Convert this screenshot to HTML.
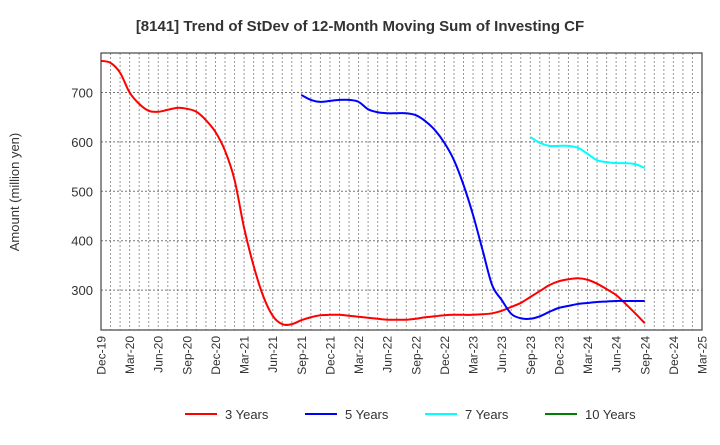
<!DOCTYPE html>
<html><head><meta charset="utf-8"><style>
body{margin:0;background:#fff;font-family:"Liberation Sans",sans-serif}
</style></head><body>
<svg id="chart" width="720" height="440" xmlns="http://www.w3.org/2000/svg" font-family="Liberation Sans, sans-serif">
<text x="360" y="31" text-anchor="middle" font-size="15" font-weight="bold" fill="#333">[8141]  Trend of StDev of 12-Month Moving Sum of Investing CF</text>
<text transform="translate(19,192) rotate(-90)" text-anchor="middle" font-size="13" fill="#333">Amount (million yen)</text>
<g id="grid"></g><g id="series"></g><g id="axes"></g><g id="legend"></g>
</svg>
<script>
const xLabels=["Dec-19","Mar-20","Jun-20","Sep-20","Dec-20","Mar-21","Jun-21","Sep-21","Dec-21","Mar-22","Jun-22","Sep-22","Dec-22","Mar-23","Jun-23","Sep-23","Dec-23","Mar-24","Jun-24","Sep-24","Dec-24","Mar-25"];
const yTicks=[300,400,500,600,700];
const seriesNames=["3 Years","5 Years","7 Years","10 Years"];
const seriesColors=["#ff0000","#0000ff","#00ffff","#008000"];
const start3=0, start5=21, start7=45;
const s3=[764,760,740,700,677,663,661,665,669,667,661,644,620,582,523,426,349,288,248,231,231,239,245,249,250,250,248,246,244,242,240,240,240,242,245,247,249,250,250,250,251,253,258,266,274,286,298,310,318,322,324,321,313,302,290,272,253,233];
const s5=[695,685,681,683,685,685,681,666,660,658,658,658,654,642,624,598,563,513,452,381,310,280,252,243,242,247,256,264,268,272,274,276,277,278,278,278,278];
const s7=[610,598,592,592,592,588,576,563,559,557,557,555,547];
const s10=[];
const L=101,R=702,T=53,B=330,months=63;
const X=i=>L+(R-L)*i/months;
const Y=v=>92.5+(700-v)*0.494;
const ns="http://www.w3.org/2000/svg";
function mk(t,a,p){const e=document.createElementNS(ns,t);for(const k in a)e.setAttribute(k,a[k]);p.appendChild(e);return e;}
function smooth(pts){let d='M'+pts[0][0]+','+pts[0][1];
for(let i=0;i<pts.length-1;i++){const p0=pts[i-1]||pts[i],p1=pts[i],p2=pts[i+1],p3=pts[i+2]||p2;
const c1=[p1[0]+(p2[0]-p0[0])/6,p1[1]+(p2[1]-p0[1])/6],c2=[p2[0]-(p3[0]-p1[0])/6,p2[1]-(p3[1]-p1[1])/6];
d+=' C'+c1+' '+c2+' '+p2;}return d;}
const grid=document.getElementById('grid'),axes=document.getElementById('axes'),ser=document.getElementById('series'),leg=document.getElementById('legend');
for(let i=1;i<months;i++){const l=mk('line',{x1:X(i),x2:X(i),y1:T,y2:B,stroke:'#999','stroke-dasharray':'2,2','stroke-width':1},grid);

}
yTicks.forEach(v=>{const l=mk('line',{x1:L,x2:R,y1:Y(v),y2:Y(v),stroke:'#777','stroke-dasharray':'2,2','stroke-width':1},grid);


const t=mk('text',{x:L-8,y:Y(v)+5,'text-anchor':'end','font-size':13,fill:'#333'},axes);t.textContent=v;

});
const f=mk('rect',{x:L,y:T,width:R-L,height:B-T,fill:'none',stroke:'#444','stroke-width':1.2},axes);


xLabels.forEach((s,i)=>{const x=X(i*3);const t=mk('text',{transform:`translate(${x+4.5},${B+6}) rotate(-90)`,'text-anchor':'end','font-size':12,fill:'#333'},axes);t.textContent=s;

});
[[s3,start3],[s5,start5],[s7,start7],[s10,0]].forEach(([d,st],k)=>{if(!d.length)return;
const p=mk('path',{d:smooth(d.map((v,i)=>[X(st+i),Y(v)])),fill:'none',stroke:seriesColors[k],'stroke-width':2,'stroke-linejoin':'round'},ser);

});
const lx=[185,305,425,545];
seriesNames.forEach((n,k)=>{const g=mk('g',{},leg);


mk('line',{x1:lx[k],x2:lx[k]+32,y1:414,y2:414,stroke:seriesColors[k],'stroke-width':2},g);
const t=mk('text',{x:lx[k]+40,y:419,'font-size':13,fill:'#333'},g);t.textContent=n;});
</script>
</body></html>
